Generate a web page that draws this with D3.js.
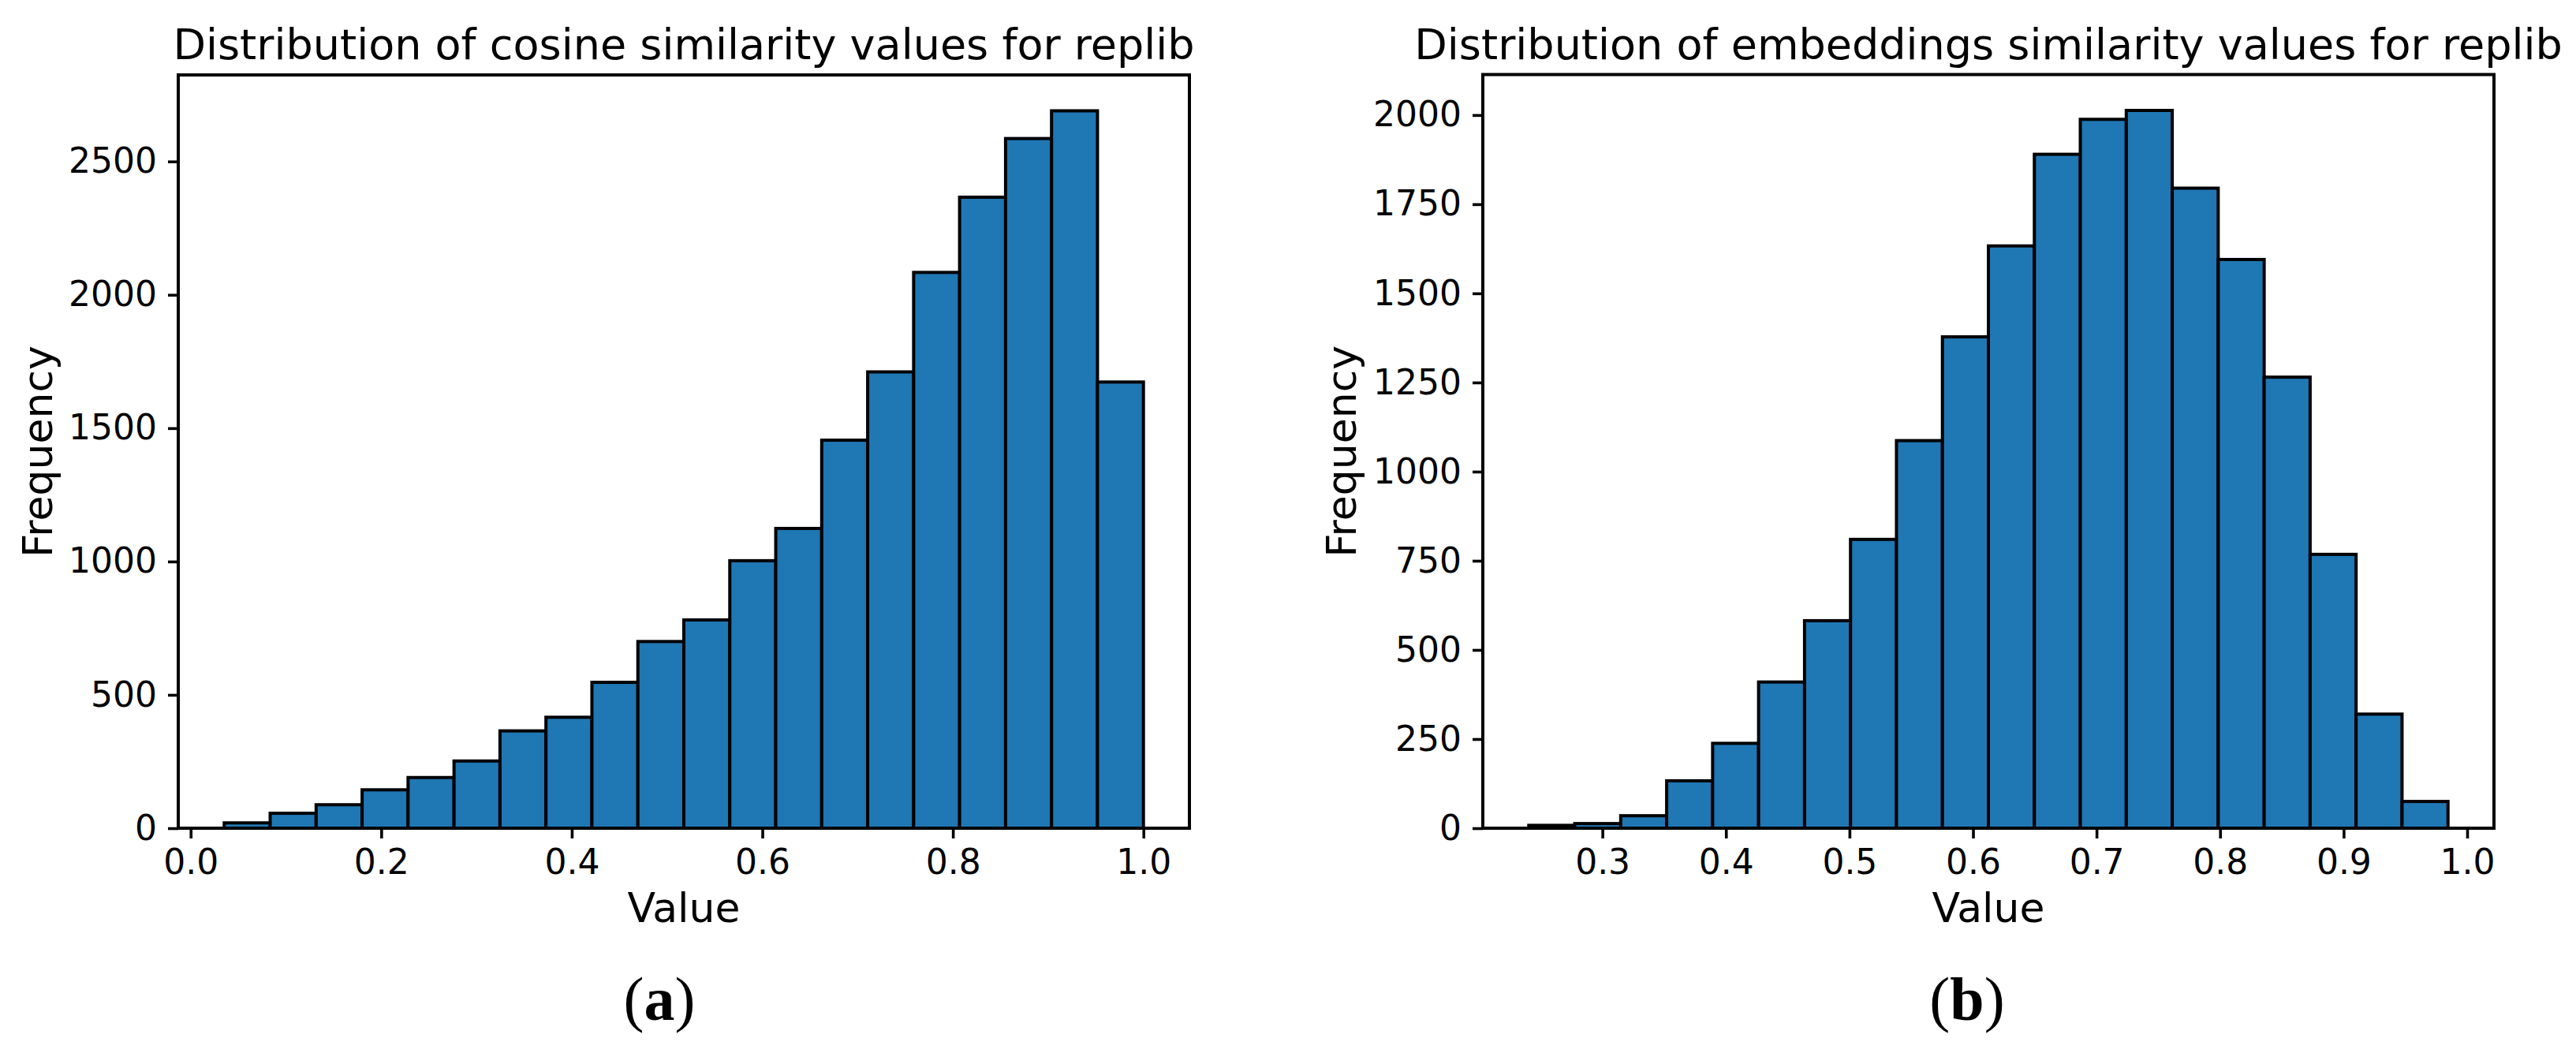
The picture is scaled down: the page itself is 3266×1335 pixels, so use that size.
<!DOCTYPE html>
<html>
<head>
<meta charset="utf-8">
<script src="https://cdn.jsdelivr.net/npm/d3@7"></script>
<style>
  html, body { margin: 0; padding: 0; background: #fff; }
  svg { display: block; }
  text { font-family: "DejaVu Sans", sans-serif; fill: #000; }
</style>
</head>
<body>
<svg id="chart" width="3266" height="1335"></svg>
<script>
// ---------------- data ----------------
// (a) cosine similarity histogram: 20 bins between these limits
const cosineRange = [0.0352, 1.0];
const cosineCounts = [20, 56, 88, 144, 190, 252, 365, 416, 547, 700,
                      781, 1003, 1124, 1455, 1711, 2084, 2366, 2586, 2690, 1673];
const cosineXTicks = [0.0, 0.2, 0.4, 0.6, 0.8, 1.0];
const cosineYTicks = [0, 500, 1000, 1500, 2000, 2500];

// (b) embeddings similarity histogram
const embedRange = [0.2404, 0.9845];
const embedCounts = [8, 13, 35, 133, 238, 410, 582, 810, 1087, 1378,
                     1633, 1890, 1988, 2013, 1795, 1595, 1265, 768, 320, 75];
const embedXTicks = [0.3, 0.4, 0.5, 0.6, 0.7, 0.8, 0.9, 1.0];
const embedYTicks = [0, 250, 500, 750, 1000, 1250, 1500, 1750, 2000];

const titles = ["Distribution of cosine similarity values for replib",
                "Distribution of embeddings similarity values for replib"];
const xLabel = "Value";
const yLabel = "Frequency";
const panelTags = ["a", "b"];

// ---------------- drawing ----------------
const svg = d3.select("#chart");
const barColor = "#1f77b4";

function panel(opt) {
  const { left, right, top, bottom, range, counts, xTicks, yTicks, title, tag, yLabelX, tagX } = opt;
  const n = counts.length;
  const bw = (range[1] - range[0]) / n;
  const bins = counts.map((c, i) => ({ x0: range[0] + i * bw, x1: range[0] + (i + 1) * bw, c }));
  const span = range[1] - range[0];
  const x = d3.scaleLinear().domain([range[0] - 0.05 * span, range[1] + 0.05 * span]).range([left, right]);
  const ymax = d3.max(counts) * 1.05;
  const y = d3.scaleLinear().domain([0, ymax]).range([bottom, top]);

  const g = svg.append("g");

  g.selectAll("rect.bar").data(bins).enter().append("rect")
    .attr("class", "bar")
    .attr("x", d => x(d.x0))
    .attr("width", d => x(d.x1) - x(d.x0))
    .attr("y", d => y(d.c))
    .attr("height", d => y(0) - y(d.c))
    .attr("fill", barColor)
    .attr("stroke", "#000")
    .attr("stroke-width", 4);

  // frame
  g.append("rect")
    .attr("x", left).attr("y", top)
    .attr("width", right - left).attr("height", bottom - top)
    .attr("fill", "none").attr("stroke", "#000").attr("stroke-width", 4);

  const xAxis = d3.axisBottom(x).tickValues(xTicks).tickFormat(d3.format(".1f"))
    .tickSize(13).tickPadding(14);
  const gx = g.append("g").attr("transform", `translate(0,${bottom})`).call(xAxis);
  const yAxis = d3.axisLeft(y).tickValues(yTicks).tickFormat(d3.format("d"))
    .tickSize(13).tickPadding(14);
  const gy = g.append("g").attr("transform", `translate(${left},0)`).call(yAxis);

  [gx, gy].forEach(a => {
    a.select(".domain").remove();
    a.selectAll(".tick line").attr("stroke", "#000").attr("stroke-width", 3.6);
    a.selectAll(".tick text").attr("fill", "#000")
      .style("font-family", "'DejaVu Sans', sans-serif").style("font-size", "44px");
  });

  const cx = (left + right) / 2;
  g.append("text").attr("x", cx).attr("y", 75).attr("text-anchor", "middle")
    .style("font-size", "54px").text(title);
  g.append("text").attr("x", cx).attr("y", 1169).attr("text-anchor", "middle")
    .style("font-size", "52px").text(xLabel);
  g.append("text")
    .attr("transform", `translate(${yLabelX},${(top + bottom) / 2}) rotate(-90)`)
    .attr("text-anchor", "middle")
    .style("font-size", "52px").text(yLabel);

  const t = g.append("text").attr("x", tagX).attr("y", 1293).attr("text-anchor", "middle")
    .style("font-family", "'Liberation Serif', 'DejaVu Serif', serif").style("font-size", "78px");
  t.append("tspan").text("(");
  t.append("tspan").style("font-weight", "bold").text(tag);
  t.append("tspan").text(")");
}

panel({ left: 226, right: 1508, top: 95, bottom: 1050, range: cosineRange, counts: cosineCounts,
        xTicks: cosineXTicks, yTicks: cosineYTicks, title: titles[0], tag: panelTags[0],
        yLabelX: 66, tagX: 836 });
panel({ left: 1880, right: 3162, top: 94.5, bottom: 1050, range: embedRange, counts: embedCounts,
        xTicks: embedXTicks, yTicks: embedYTicks, title: titles[1], tag: panelTags[1],
        yLabelX: 1719, tagX: 2494 });
</script>
</body>
</html>
